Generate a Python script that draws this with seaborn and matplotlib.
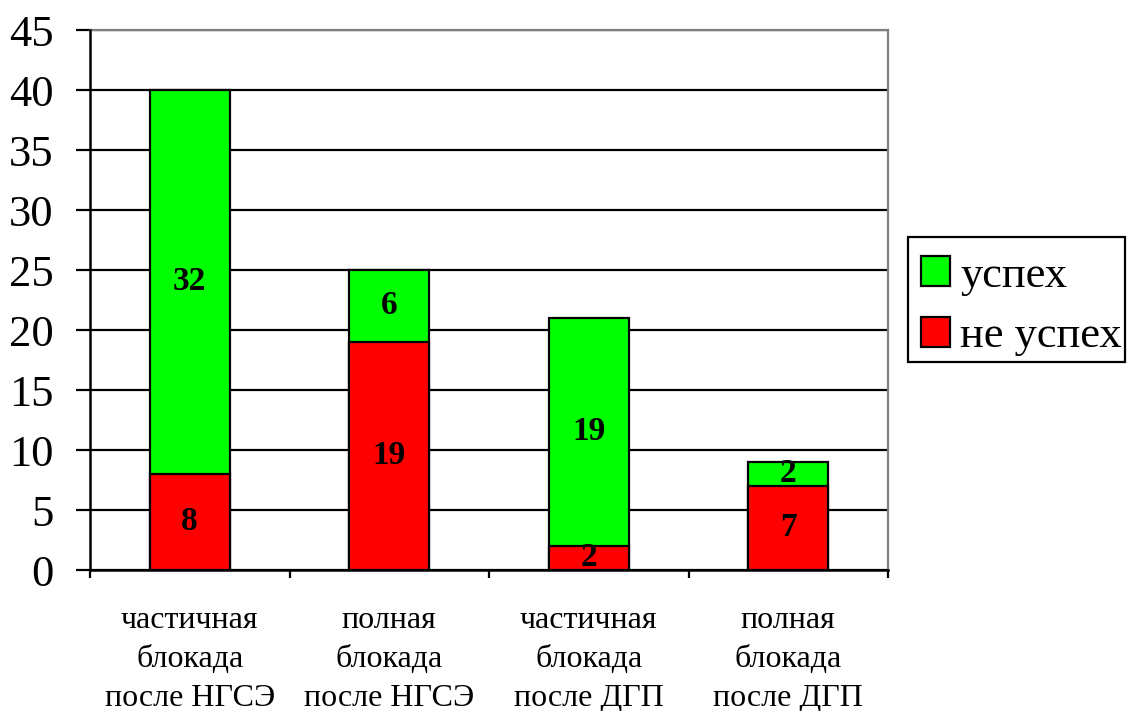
import matplotlib
matplotlib.use("Agg")
import matplotlib.pyplot as plt
import seaborn as sns
import pandas as pd
from matplotlib.patches import Patch, Rectangle
from matplotlib.ticker import FixedLocator

categories = [
    "частичная\nблокада\nпосле НГСЭ",
    "полная\nблокада\nпосле НГСЭ",
    "частичная\nблокада\nпосле ДГП",
    "полная\nблокада\nпосле ДГП",
]
fail_values = [8, 19, 2, 7]        # не успех
success_values = [32, 6, 19, 2]    # успех
y_ticks = [0, 5, 10, 15, 20, 25, 30, 35, 40, 45]

sns.set_theme(style="white")
plt.rcParams["font.family"] = ["Liberation Serif", "DejaVu Serif"]
plt.rcParams["text.color"] = "black"
plt.rcParams["xtick.color"] = "black"
plt.rcParams["ytick.color"] = "black"
plt.rcParams["axes.labelcolor"] = "black"

df = pd.DataFrame({
    "cat": categories,
    "fail": fail_values,
    "success": success_values,
})
df["total"] = df["fail"] + df["success"]

W, H = 1129, 711
fig = plt.figure(figsize=(W / 100, H / 100), dpi=100)
ax = fig.add_axes([90 / W, (H - 570) / H, 798 / W, 540 / H])

green = "#00FF00"
red = "#FF0000"

sns.barplot(data=df, x="cat", y="total", color=green, width=0.4,
            edgecolor="black", linewidth=1.6, saturation=1, ax=ax, zorder=3)
sns.barplot(data=df, x="cat", y="fail", color=red, width=0.4,
            edgecolor="black", linewidth=1.6, saturation=1, ax=ax, zorder=4)

# value labels in the middle of each segment
for i, (f, s) in enumerate(zip(fail_values, success_values)):
    ax.text(i, f / 2, str(f), ha="center", va="center", fontsize=24,
            fontweight="bold", color="black", zorder=5)
    ax.text(i, f + s / 2, str(s), ha="center", va="center", fontsize=24,
            fontweight="bold", color="black", zorder=5)

ax.set_xlim(-0.5, 3.5)
ax.set_ylim(0, 45)
ax.set_yticks(y_ticks)
ax.set_yticklabels([str(t) for t in y_ticks], fontsize=32)
ax.yaxis.grid(True, color="black", linewidth=1.6, zorder=0)
ax.set_axisbelow(True)

ax.set_xlabel("")
ax.set_ylabel("")
ax.tick_params(axis="x", which="major", length=0, pad=26, labelsize=23)
for lbl in ax.get_xticklabels():
    lbl.set_linespacing(1.45)
ax.xaxis.set_minor_locator(FixedLocator([-0.5, 0.5, 1.5, 2.5, 3.5]))
ax.tick_params(axis="x", which="minor", bottom=True, direction="out",
               length=6, width=1.6, color="black")
ax.tick_params(axis="y", which="major", left=True, direction="out",
               length=10, width=1.6, color="black", pad=16)

for side in ("left", "bottom"):
    ax.spines[side].set_color("black")
    ax.spines[side].set_linewidth(1.8)
for side in ("top", "right"):
    ax.spines[side].set_color("#808080")
    ax.spines[side].set_linewidth(1.6)
ax.spines["left"].set_zorder(6)
ax.spines["bottom"].set_zorder(6)

# legend box drawn as a separate frame so it can hug the text tightly
fig.patches.append(Rectangle((908 / W, (H - 362) / H), 217 / W, 125 / H,
                             transform=fig.transFigure, facecolor="white",
                             edgecolor="black", linewidth=1.6, zorder=-1))

handles = [
    Patch(facecolor=green, edgecolor="black", linewidth=1.6, label="успех"),
    Patch(facecolor=red, edgecolor="black", linewidth=1.6, label="не успех"),
]
leg = ax.legend(handles=handles, loc="upper left",
                bbox_to_anchor=(921 / W, (H - 256) / H),
                bbox_transform=fig.transFigure, fontsize=32,
                frameon=False, handlelength=0.66, handleheight=0.66,
                handletextpad=0.22, labelspacing=0.46, borderpad=0,
                borderaxespad=0)

fig.savefig("out.png", dpi=100, facecolor="white")
